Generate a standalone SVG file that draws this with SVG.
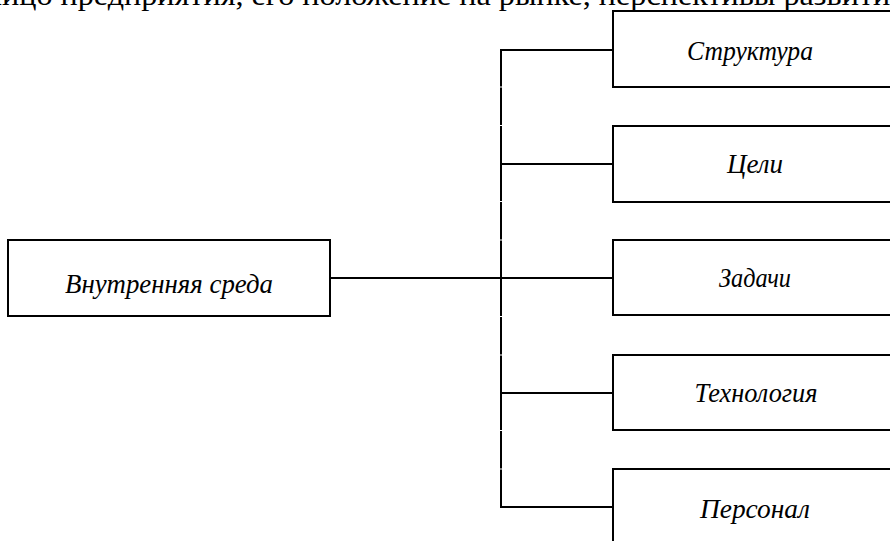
<svg xmlns="http://www.w3.org/2000/svg" width="890" height="541" viewBox="0 0 890 541">
<style>
.box{fill:#fff;stroke:#000;stroke-width:2}
.lbl{font-family:"Liberation Serif","Times New Roman",serif;font-style:italic;font-size:28px;fill:#000;text-anchor:middle}
.top{font-family:"Liberation Serif","Times New Roman",serif;font-size:29px;fill:#000}
.con{fill:none;stroke:#000;stroke-width:2}
</style>
<rect width="890" height="541" fill="#fff"/>
<text class="top" x="-14" y="5" textLength="919" lengthAdjust="spacingAndGlyphs">лицо предприятия, его положение на рынке, перспективы развития</text>
<g id="connectors">
<path class="con" d="M501 50V86.5M501 87.5V125M501 126V201M501 202V239.5M501 240.5V316M501 317V354.5M501 355.5V430M501 431V468.5M501 469.5V508"/>
<path class="con" d="M500 50H613M501 164H613M330 278H613M501 393H613M500 507H613"/>
</g>
<g id="n-inner"><rect class="box" x="8" y="240" width="322" height="76"/><text class="lbl" x="169" y="293" textLength="208" lengthAdjust="spacingAndGlyphs">Внутренняя среда</text></g>
<g id="n-struct"><rect class="box" x="613" y="11" width="300" height="76"/><text class="lbl" x="750" y="60" textLength="126" lengthAdjust="spacingAndGlyphs">Структура</text></g>
<g id="n-goals"><rect class="box" x="613" y="126" width="300" height="76"/><text class="lbl" x="755" y="173" textLength="56" lengthAdjust="spacingAndGlyphs">Цели</text></g>
<g id="n-tasks"><rect class="box" x="613" y="240" width="300" height="75"/><text class="lbl" x="755" y="287" textLength="72" lengthAdjust="spacingAndGlyphs">Задачи</text></g>
<g id="n-tech"><rect class="box" x="613" y="355" width="300" height="75"/><text class="lbl" x="756" y="402" textLength="123" lengthAdjust="spacingAndGlyphs">Технология</text></g>
<g id="n-staff"><rect class="box" x="613" y="469" width="300" height="80"/><text class="lbl" x="755" y="518" textLength="110" lengthAdjust="spacingAndGlyphs">Персонал</text></g>
</svg>
